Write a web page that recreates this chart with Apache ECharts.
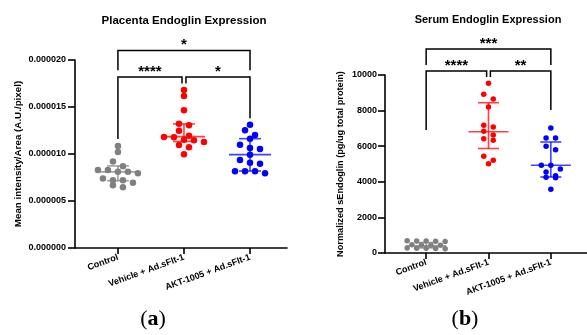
<!DOCTYPE html>
<html>
<head>
<meta charset="utf-8">
<script src="https://cdn.jsdelivr.net/npm/echarts@6/dist/echarts.min.js"></script>
<style>
  html, body { margin: 0; padding: 0; background: #fff; }
  #main { width: 587px; height: 335px; }
</style>
</head>
<body>
<div id="main"></div>
<script>
// groups on the x axis (same for both panels)
const groups = ["Control", "Vehicle + Ad.sFlt-1", "AKT-1005 + Ad.sFlt-1"];
const groupColors = ["#808080", "#ff0000", "#0000ff"];

// (a) placenta endoglin, mean intensity / area
const placentaControl = [0.00001085, 0.0000102, 0.0000092, 0.0000087, 0.0000083, 0.0000083, 0.0000081, 0.0000081, 0.00000795, 0.0000074, 0.0000072, 0.0000072, 0.00000695, 0.00000667, 0.00000645];
const placentaVehicle = [0.00001681, 0.00001617, 0.00001465, 0.00001322, 0.00001305, 0.00001248, 0.00001195, 0.00001181, 0.00001178, 0.00001152, 0.00001146, 0.00001128, 0.00001096, 0.00001071, 0.00000997];
const placentaAkt = [0.00001312, 0.00001252, 0.00001202, 0.00001163, 0.00001099, 0.00001064, 0.00001053, 0.00000993, 0.00000936, 0.00000908, 0.00000897, 0.00000816, 0.00000816, 0.00000816, 0.00000795];
const placentaCenter = [0.0000081, 0.00001185, 0.00000993];
const placentaLower = [0.00000716, 0.00001133, 0.00000819];
const placentaUpper = [0.00000873, 0.0000132, 0.00001163];

// (b) serum endoglin, pg/ug total protein
const serumControl = [690, 680, 670, 660, 650, 470, 450, 440, 430, 280, 270, 260, 250, 240];
const serumVehicle = [9534, 8916, 8652, 8202, 7174, 7079, 6837, 6629, 6421, 6331, 5433, 5208, 5017];
const serumAkt = [7022, 6461, 6461, 5994, 5803, 4927, 4927, 4719, 4551, 4343, 4253, 4230, 3579];
const serumCenter = [400, 6815, 4927];
const serumLower = [290, 5870, 4270];
const serumUpper = [590, 8444, 6236];

// significance brackets: from/to group, top level, leg ends
const placentaBrackets = [
  { from: 0, to: 2, top: 0.0000210, legs: [0.0000189, 0.0000189], label: "*" },
  { from: 0, to: 0.97, top: 0.0000182, legs: [0.0000116, 0.0000175], label: "****" },
  { from: 1.03, to: 2, top: 0.0000182, legs: [0.0000175, 0.0000138], label: "*" }
];
const serumBrackets = [
  { from: 0, to: 2, top: 11460, legs: [10560, 10560], label: "***" },
  { from: 0, to: 0.97, top: 10230, legs: [6910, 9890], label: "****" },
  { from: 1.03, to: 2, top: 10230, legs: [9890, 8030], label: "**" }
];

const font = "Liberation Sans, Arial, sans-serif";
const gridA = { left: 75, top: 60, width: 212, height: 188 };
const gridB = { left: 385, top: 75, width: 202, height: 178 };
const xRangeA = [-0.65, 2.56];
const xRangeB = [-0.66, 2.58];
const yMaxA = 0.00002;
const yMaxB = 10000;

// prism-like column scatter: points close in y share a row, spread sideways
function swarm(values, index, pxPerY, pxPerX, rowGap, spacing) {
  const sorted = values.slice().sort((a, b) => b - a);
  const out = [];
  let i = 0;
  while (i < sorted.length) {
    const row = [sorted[i]];
    let j = i + 1;
    while (j < sorted.length && (sorted[i] - sorted[j]) * pxPerY < rowGap) {
      row.push(sorted[j]);
      j++;
    }
    row.forEach((v, k) => {
      out.push([index + ((k - (row.length - 1) / 2) * spacing) / pxPerX, v]);
    });
    i = j;
  }
  return out;
}

const pxYA = gridA.height / yMaxA;
const pxXA = gridA.width / (xRangeA[1] - xRangeA[0]);
const pxYB = gridB.height / yMaxB;
const pxXB = gridB.width / (xRangeB[1] - xRangeB[0]);

function errorBars(center, lower, upper, axisIndex, halfWide, halfCap) {
  return {
    type: "custom",
    xAxisIndex: axisIndex,
    yAxisIndex: axisIndex,
    z: 5,
    data: center.map((c, i) => [i, c, lower[i], upper[i]]),
    renderItem: (params, api) => {
      const idx = api.value(0);
      const c = api.coord([idx, api.value(1)]);
      const lo = api.coord([idx, api.value(2)]);
      const hi = api.coord([idx, api.value(3)]);
      const st = { stroke: groupColors[idx], lineWidth: 1.6, opacity: 0.75 };
      return {
        type: "group",
        children: [
          { type: "line", shape: { x1: c[0] - halfWide, y1: c[1], x2: c[0] + halfWide, y2: c[1] }, style: st },
          { type: "line", shape: { x1: c[0], y1: lo[1], x2: c[0], y2: hi[1] }, style: st },
          { type: "line", shape: { x1: c[0] - halfCap, y1: lo[1], x2: c[0] + halfCap, y2: lo[1] }, style: st },
          { type: "line", shape: { x1: c[0] - halfCap, y1: hi[1], x2: c[0] + halfCap, y2: hi[1] }, style: st }
        ]
      };
    }
  };
}

function bracketSeries(brackets, axisIndex) {
  return {
    type: "custom",
    xAxisIndex: axisIndex,
    yAxisIndex: axisIndex,
    clip: false,
    data: brackets.map((b) => [b.from, b.top]),
    renderItem: (params, api) => {
      const b = brackets[params.dataIndex];
      const tl = api.coord([b.from, b.top]);
      const tr = api.coord([b.to, b.top]);
      const bl = api.coord([b.from, b.legs[0]]);
      const br = api.coord([b.to, b.legs[1]]);
      return {
        type: "group",
        children: [
          {
            type: "polyline",
            shape: { points: [bl, tl, tr, br] },
            style: { stroke: "#000", lineWidth: 1.5, fill: null }
          },
          {
            type: "text",
            x: (tl[0] + tr[0]) / 2,
            y: tl[1] + 2,
            style: {
              text: b.label, fontSize: 15, fontWeight: "bold", fontFamily: font,
              fill: "#000", align: "center", verticalAlign: "bottom"
            }
          }
        ]
      };
    }
  };
}

function xAxis(gridIndex, range) {
  return {
    type: "value",
    gridIndex: gridIndex,
    min: range[0],
    max: range[1],
    splitLine: { show: false },
    axisLine: { show: true, onZero: false, lineStyle: { color: "#000", width: 1.6 } },
    axisTick: { show: true, customValues: [0, 1, 2], length: 6, lineStyle: { color: "#000", width: 1.6 } },
    axisLabel: {
      customValues: [0, 1, 2],
      formatter: (v) => groups[Math.round(v)],
      rotate: 20,
      margin: 9,
      color: "#000",
      fontSize: 9,
      fontWeight: "bold",
      fontFamily: font
    }
  };
}

function yAxis(gridIndex, max, interval, name, nameSize, nameGap, labelMargin, fmt) {
  return {
    type: "value",
    gridIndex: gridIndex,
    min: 0,
    max: max,
    interval: interval,
    splitLine: { show: false },
    axisLine: { show: true, onZero: false, lineStyle: { color: "#000", width: 1.6 } },
    axisTick: { show: true, length: 7, lineStyle: { color: "#000", width: 1.6 } },
    axisLabel: { formatter: fmt, margin: labelMargin, color: "#000", fontSize: 9, fontWeight: "bold", fontFamily: font },
    name: name,
    nameLocation: "middle",
    nameGap: nameGap,
    nameTextStyle: { color: "#000", fontSize: nameSize, fontWeight: "bold", fontFamily: font }
  };
}

const chart = echarts.init(document.getElementById("main"));

const placentaSets = [placentaControl, placentaVehicle, placentaAkt];
const serumSets = [serumControl, serumVehicle, serumAkt];
const serumRowGaps = [3, 5, 5];

const scatterSeries = [];
placentaSets.forEach((vals, i) => {
  scatterSeries.push({
    type: "scatter",
    xAxisIndex: 0,
    yAxisIndex: 0,
    symbolSize: 6.5,
    itemStyle: { color: groupColors[i], opacity: 1 },
    data: swarm(vals, i, pxYA, pxXA, 5, 10)
  });
});
serumSets.forEach((vals, i) => {
  scatterSeries.push({
    type: "scatter",
    xAxisIndex: 1,
    yAxisIndex: 1,
    symbolSize: 5.5,
    itemStyle: { color: groupColors[i], opacity: 1 },
    data: swarm(vals, i, pxYB, pxXB, serumRowGaps[i], 9.5)
  });
});

const option = {
  animation: false,
  backgroundColor: "#fff",
  grid: [
    { left: gridA.left, top: gridA.top, width: gridA.width, height: gridA.height },
    { left: gridB.left, top: gridB.top, width: gridB.width, height: gridB.height }
  ],
  xAxis: [xAxis(0, xRangeA), xAxis(1, xRangeB)],
  yAxis: [
    yAxis(0, yMaxA, 0.000005, "Mean intensity/Area (A.U./pixel)", 9.8, 52, 9, (v) => v.toFixed(6)),
    yAxis(1, yMaxB, 2000, "Normalized sEndoglin (pg/ug total protein)", 9.2, 40, 8, (v) => String(Math.round(v)))
  ],
  graphic: [
    { type: "text", x: 184, y: 21, style: { text: "Placenta Endoglin Expression", font: "bold 11.5px " + font, fill: "#000", align: "center", verticalAlign: "middle" } },
    { type: "text", x: 488, y: 20, style: { text: "Serum Endoglin Expression", font: "bold 11px " + font, fill: "#000", align: "center", verticalAlign: "middle" } },
    {
      type: "text", x: 153, y: 319,
      style: {
        text: "{p|(}{l|a}{p|)}", align: "center", verticalAlign: "middle",
        rich: {
          p: { fontSize: 22, fontFamily: "Liberation Serif, serif", fill: "#000" },
          l: { fontSize: 22, fontWeight: "bold", fontFamily: "Liberation Serif, serif", fill: "#000" }
        }
      }
    },
    {
      type: "text", x: 465, y: 319,
      style: {
        text: "{p|(}{l|b}{p|)}", align: "center", verticalAlign: "middle",
        rich: {
          p: { fontSize: 22, fontFamily: "Liberation Serif, serif", fill: "#000" },
          l: { fontSize: 22, fontWeight: "bold", fontFamily: "Liberation Serif, serif", fill: "#000" }
        }
      }
    }
  ],
  series: scatterSeries.concat([
    errorBars(placentaCenter, placentaLower, placentaUpper, 0, 21, 11),
    errorBars(serumCenter, serumLower, serumUpper, 1, 20, 10.5),
    bracketSeries(placentaBrackets, 0),
    bracketSeries(serumBrackets, 1)
  ])
};

chart.setOption(option);
</script>
</body>
</html>
